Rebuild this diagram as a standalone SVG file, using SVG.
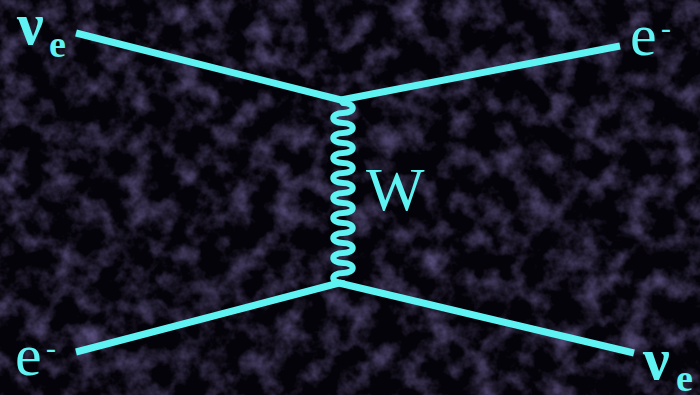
<svg xmlns="http://www.w3.org/2000/svg" width="700" height="395" viewBox="0 0 700 395">
  <style>
    .line { fill: none; stroke: #5ef2f2; stroke-width: 7; stroke-linecap: butt; }
    .wave { fill: none; stroke: #5ef2f2; stroke-width: 6; stroke-linejoin: round; }
    .lbl { font-family: "Liberation Serif", "Times New Roman", serif; fill: #5ef2f2; }
    .nu { font-weight: bold; font-size: 60px; }
    .sub { font-weight: bold; font-size: 38px; }
    .e { font-size: 60px; }
    .sup { font-size: 30px; }
  </style>
  <defs>
    <filter id="web" x="0" y="0" width="700" height="395" filterUnits="userSpaceOnUse">
      <feTurbulence type="fractalNoise" baseFrequency="0.04" numOctaves="4" seed="7"/>
      <feColorMatrix type="matrix" values="0 0 0 0 0.24  0 0 0 0 0.19  0 0 0 0 0.5  1.3 0 0 0 -0.56"/>
    </filter>
  </defs>
  <rect id="background" x="0" y="0" width="700" height="395" fill="#05030a"/>
  <rect x="0" y="0" width="700" height="395" filter="url(#web)"/>
  <g id="connectors">
    <path id="nu-in" class="line" d="M76 33 L341 100"/>
    <path id="e-out" class="line" d="M341 100 L620 46"/>
    <path id="e-in" class="line" d="M76 352 L339 283"/>
    <path id="nu-out" class="line" d="M339 283 L634 353"/>
    <path id="w-boson" class="wave" d="M341 100 L343 103 c 13 0 13 10 0 10 c -13 0 -13 10 0 10 c 13 0 13 10 0 10 c -13 0 -13 10 0 10 c 13 0 13 10 0 10 c -13 0 -13 10 0 10 c 13 0 13 10 0 10 c -13 0 -13 10 0 10 c 13 0 13 10 0 10 c -13 0 -13 10 0 10 c 13 0 13 10 0 10 c -13 0 -13 10 0 10 c 13 0 13 10 0 10 c -13 0 -13 10 0 10 c 13 0 13 10 0 10 c -13 0 -13 10 0 10 c 13 0 13 10 0 10 c -13 0 -13 10 0 10 L339 283"/>
  </g>
  <g id="label-nu-e-in">
    <text class="lbl nu" x="17" y="44">ν</text>
    <text class="lbl sub" x="49" y="57">e</text>
  </g>
  <g id="label-e-out">
    <text class="lbl e" x="630" y="55">e</text>
    <text class="lbl sup" x="661" y="38">-</text>
  </g>
  <g id="label-e-in">
    <text class="lbl e" x="15" y="375">e</text>
    <text class="lbl sup" x="46" y="358">-</text>
  </g>
  <g id="label-nu-e-out">
    <text class="lbl nu" x="643" y="379">ν</text>
    <text class="lbl sub" x="676" y="391">e</text>
  </g>
  <g id="label-w">
    <text class="lbl" x="366" y="210" font-size="62">W</text>
  </g>
</svg>
